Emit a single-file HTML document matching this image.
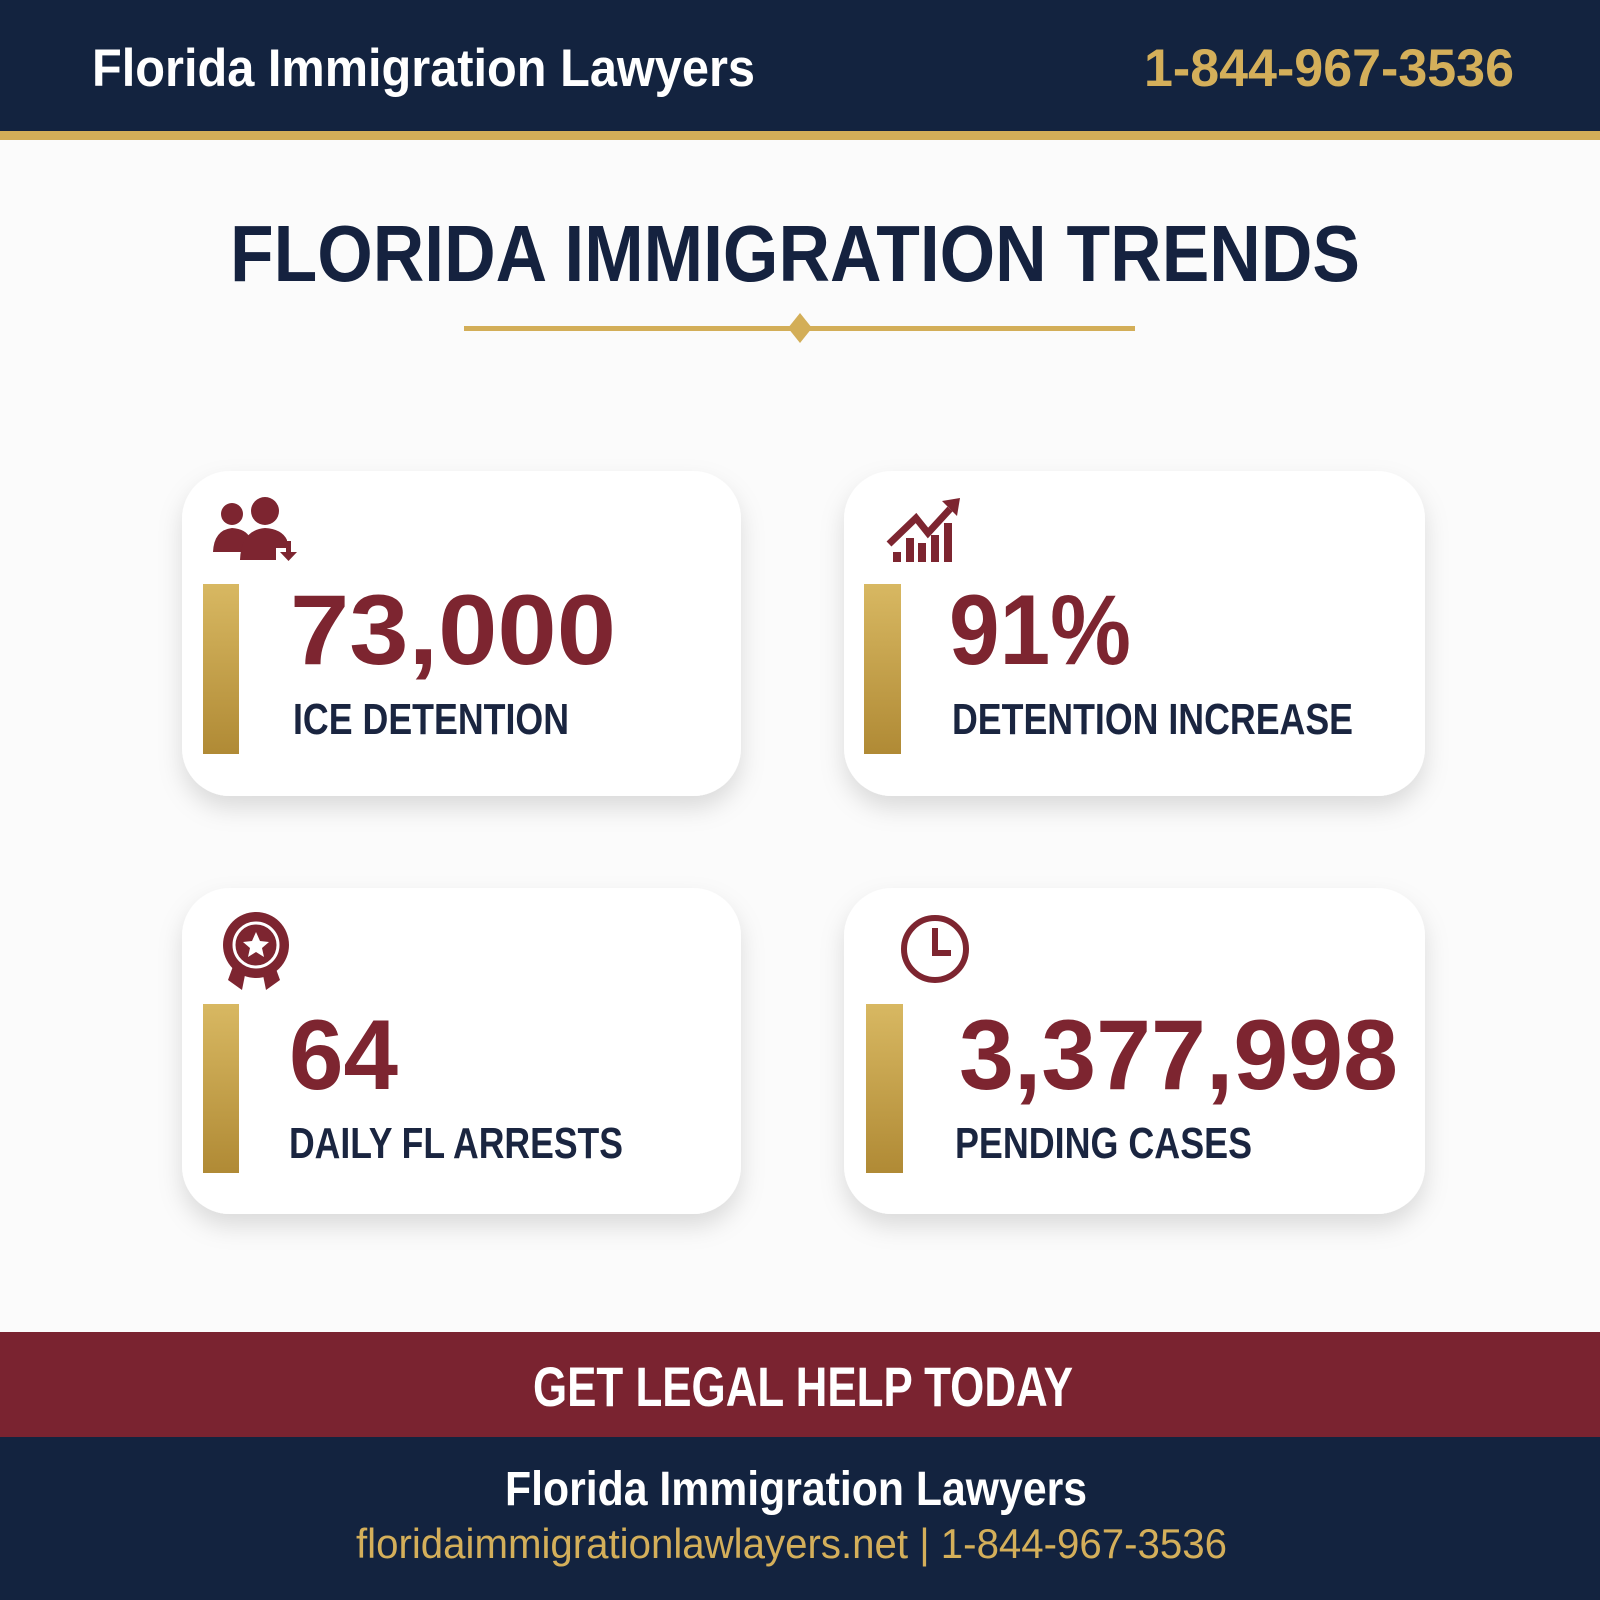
<!DOCTYPE html>
<html><head><meta charset="utf-8"><style>html,body{margin:0;padding:0;background:#fbfbfb}svg{display:block}</style></head><body>
<svg width="1600" height="1600" viewBox="0 0 1600 1600" xmlns="http://www.w3.org/2000/svg" font-family="Liberation Sans, sans-serif" font-weight="bold">
<defs>
<filter id="sh" x="-20%" y="-20%" width="140%" height="150%"><feDropShadow dx="0" dy="12" stdDeviation="12" flood-color="#000" flood-opacity="0.13"/></filter>
<linearGradient id="gold" x1="0" y1="0" x2="0" y2="1"><stop offset="0" stop-color="#d8b862"/><stop offset="1" stop-color="#b08a35"/></linearGradient>
</defs>
<rect width="1600" height="1600" fill="#fbfbfb"/>
<rect width="1600" height="132" fill="#13233f"/>
<rect y="131" width="1600" height="9" fill="#d3ae58"/>
<text x="92" y="86" font-size="53" fill="#fff" textLength="663" lengthAdjust="spacingAndGlyphs">Florida Immigration Lawyers</text>
<text x="1514" y="86" font-size="53" fill="#d4af5a" text-anchor="end" textLength="370" lengthAdjust="spacingAndGlyphs">1-844-967-3536</text>
<text x="230" y="281" font-size="80" fill="#15223f" textLength="1130" lengthAdjust="spacingAndGlyphs">FLORIDA IMMIGRATION TRENDS</text>
<rect x="464" y="326" width="671" height="5" fill="#d3ae58"/>
<path d="M800 313 L812 328 L800 343 L788 328Z" fill="#d3ae58"/>

<g filter="url(#sh)" fill="#fff">
<rect x="182" y="471" width="559" height="325" rx="48"/>
<rect x="844" y="471" width="581" height="325" rx="48"/>
<rect x="182" y="888" width="559" height="326" rx="48"/>
<rect x="844" y="888" width="581" height="326" rx="48"/>
</g>
<rect x="203" y="584" width="36" height="170" fill="url(#gold)"/>
<rect x="864" y="584" width="37" height="170" fill="url(#gold)"/>
<rect x="203" y="1004" width="36" height="169" fill="url(#gold)"/>
<rect x="866" y="1004" width="37" height="169" fill="url(#gold)"/>

<g fill="#7d2530">
<text x="290" y="664" font-size="99" textLength="326" lengthAdjust="spacingAndGlyphs">73,000</text>
<text x="949" y="664" font-size="99" textLength="182" lengthAdjust="spacingAndGlyphs">91%</text>
<text x="289" y="1089" font-size="99" textLength="109" lengthAdjust="spacingAndGlyphs">64</text>
<text x="959" y="1089" font-size="99" textLength="439" lengthAdjust="spacingAndGlyphs">3,377,998</text>
</g>
<g fill="#1a2540" font-size="44">
<text x="293" y="734" textLength="276" lengthAdjust="spacingAndGlyphs">ICE DETENTION</text>
<text x="952" y="734" textLength="401" lengthAdjust="spacingAndGlyphs">DETENTION INCREASE</text>
<text x="289" y="1158" textLength="334" lengthAdjust="spacingAndGlyphs">DAILY FL ARRESTS</text>
<text x="955" y="1158" textLength="297" lengthAdjust="spacingAndGlyphs">PENDING CASES</text>
</g>

<!-- icons -->
<g fill="#7d2530">
<circle cx="232" cy="514" r="11"/>
<path d="M213 552 Q214 530 232 528 Q246 529 250 538 L246 552Z"/>
<circle cx="265" cy="511" r="14"/>
<path d="M240 560 Q241 530 265 528 Q282 529 287 540 L287 548 L276 548 L276 560Z"/>
<path d="M286 541 h5 v11 h6 l-8.5 9 l-8.5 -9 h6z"/>
<rect x="893" y="552" width="8" height="10"/><rect x="906" y="538" width="8" height="24"/><rect x="918" y="543" width="8" height="19"/><rect x="931" y="535" width="8" height="27"/><rect x="944" y="523" width="8" height="39"/>
<path d="M889 544 L916 518 L928 533 L950 509" stroke="#7d2530" stroke-width="7" fill="none"/>
<path d="M942 501 L960 498 L957 516Z"/>
<path d="M228 980 L236 958 L248 960 L242 990Z M280 980 L272 958 L260 960 L266 990Z"/>
<circle cx="256" cy="945" r="33"/>
<circle cx="256" cy="945" r="22" fill="none" stroke="#fff" stroke-width="3"/>
<path d="M256 932 l4 9 l9 1 l-7 6 l2 9 l-8 -5 l-8 5 l2 -9 l-7 -6 l9 -1z" fill="#fff"/>
</g>
<circle cx="935" cy="949" r="31" fill="none" stroke="#7d2530" stroke-width="6"/>
<path d="M935 928 V953 H951" fill="none" stroke="#7d2530" stroke-width="6"/>

<rect y="1332" width="1600" height="106" fill="#7a2330"/>
<text x="533" y="1406" font-size="56" fill="#fff" textLength="540" lengthAdjust="spacingAndGlyphs">GET LEGAL HELP TODAY</text>
<rect y="1437" width="1600" height="163" fill="#13233f"/>
<text x="505" y="1505" font-size="48" fill="#fff" textLength="582" lengthAdjust="spacingAndGlyphs">Florida Immigration Lawyers</text>
<text x="356" y="1558" font-size="42" font-weight="normal" fill="#d4af5a" textLength="871" lengthAdjust="spacingAndGlyphs">floridaimmigrationlawlayers.net  |  1-844-967-3536</text>
</svg>
</body></html>
